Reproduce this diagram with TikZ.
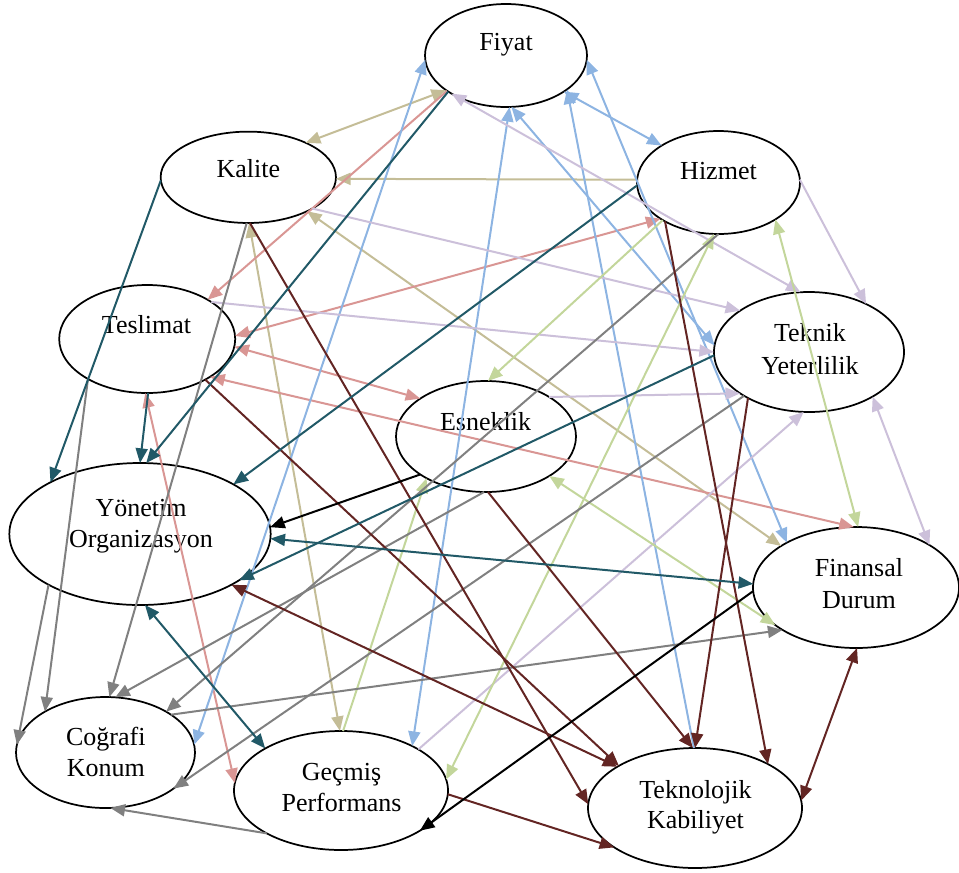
\documentclass[tikz,border=0pt]{standalone}
\usepackage{fontspec}
\setmainfont{Liberation Serif}
\usetikzlibrary{arrows.meta,shapes.geometric}
\definecolor{ctan}{HTML}{C4BD97}
\definecolor{cpink}{HTML}{D99694}
\definecolor{cteal}{HTML}{215967}
\definecolor{cblue}{HTML}{8DB4E2}
\definecolor{clav}{HTML}{CCC0DA}
\definecolor{cgreen}{HTML}{C3D69B}
\definecolor{cgray}{HTML}{808080}
\definecolor{cmar}{HTML}{632523}
\begin{document}
\begin{tikzpicture}[x=0.75pt,y=-0.75pt,
  ell/.style={ellipse,draw=black,line width=1.3pt,inner sep=0pt,outer sep=0pt},
  lbl/.style={anchor=base,inner sep=0pt,outer sep=0pt,font=\fontsize{19.5}{23}\selectfont},
  con/.style={line width=1.5pt},
  one/.style={con,-{Triangle[length=11pt,width=9pt]}},
  two/.style={con,{Triangle[length=11pt,width=9pt]}-{Triangle[length=11pt,width=9pt]}}]
\useasboundingbox (0,0) rectangle (959,872);
% ellipses
\node[ell,minimum width=121.5pt,minimum height=77.25pt] (F) at (506,55.5) {};
\node[ell,minimum width=131.5pt,minimum height=68.5pt] (K) at (248.3,177.3) {};
\node[ell,minimum width=122.25pt,minimum height=77.25pt] (H) at (718.5,182.5) {};
\node[ell,minimum width=132pt,minimum height=81pt] (T) at (147.2,339) {};
\node[ell,minimum width=142.5pt,minimum height=90pt] (TY) at (809,352) {};
\node[ell,minimum width=135pt,minimum height=83.25pt] (E) at (486,436.5) {};
\node[ell,minimum width=196pt,minimum height=106.5pt] (Y) at (140,534) {};
\node[ell,minimum width=154.5pt,minimum height=90.75pt] (FD) at (856,587.5) {};
\node[ell,minimum width=134.25pt,minimum height=83.25pt] (C) at (105.5,752.5) {};
\node[ell,minimum width=160.5pt,minimum height=89.25pt] (G) at (341,790.5) {};
\node[ell,minimum width=160.5pt,minimum height=90pt] (TK) at (695,808) {};
% labels
\node[lbl] (lF) at (506,50.5) {Fiyat};
\node[lbl] (lK) at (248.3,177.3) {Kalite};
\node[lbl] (lH) at (718.5,179) {Hizmet};
\node[lbl] (lT) at (146.5,333.3) {Teslimat};
\node[lbl] (lTY1) at (810,341.7) {Teknik};
\node[lbl] (lTY2) at (810,374) {Yeterlilik};
\node[lbl] (lE) at (485.5,430) {Esneklik};
\node[lbl] (lY1) at (141,516.7) {Yönetim};
\node[lbl] (lY2) at (141,547.7) {Organizasyon};
\node[lbl] (lFD1) at (859,576.7) {Finansal};
\node[lbl] (lFD2) at (859,608.3) {Durum};
\node[lbl] (lC1) at (105.8,745) {Coğrafi};
\node[lbl] (lC2) at (105.8,776) {Konum};
\node[lbl] (lG1) at (341.5,780) {Geçmiş};
\node[lbl] (lG2) at (341.5,811.7) {Performans};
\node[lbl] (lTK1) at (695.5,798.3) {Teknolojik};
\node[lbl] (lTK2) at (695.5,828.3) {Kabiliyet};
% tan
\draw[two,ctan] (F.210) -- (K.31);
\draw[one,ctan] (H.178) -- (K.359);
\draw[two,ctan] (K.271) -- (G.91);
\draw[two,ctan] (K.330) -- (FD.151);
% pink
\draw[one,cpink] (F.211) -- (T.33);
\draw[two,cpink] (T.2) -- (H.212);
\draw[two,cpink] (T.355) -- (E.150);
\draw[two,cpink] (T.329) -- (FD.92);
\draw[two,cpink] (T.268) -- (G.176);
% blue
\draw[two,cblue] (F.183) -- (C.5);
\draw[two,cblue] (F.274) -- (G.32);
\draw[two,cblue] (F.276) -- (TY.176);
\draw[two,cblue] (F.328) -- (H.147);
\draw[one,cblue] (TK.91) -- (F.331);
\draw[two,cblue] (F.357) -- (FD.147);
% lavender
\draw[two,clav] (F.215) -- (TY.98);
\draw[one,clav] (K.334) -- (TY.149);
\draw[one,clav] (T.30) -- (TY.180);
\draw[one,clav] (H.2) -- (TY.40);
\draw[one,clav] (E.32) -- (TY.211);
\draw[one,clav] (G.28) -- (TY.265);
\draw[two,clav] (TY.325) -- (FD.30);
% green
\draw[one,cgreen] (H.214) -- (E.88);
\draw[two,cgreen] (H.327) -- (FD.88);
\draw[two,cgreen] (H.265) -- (G.6);
\draw[one,cgreen] (G.88) -- (E.215);
\draw[two,cgreen] (E.328) -- (FD.205);
% gray
\draw[one,cgray] (K.268) -- (C.86);
\draw[one,cgray] (T.214) -- (C.146);
\draw[one,cgray] (Y.209) -- (C.175);
\draw[one,cgray] (H.270) -- (C.34);
\draw[one,cgray] (E.268) -- (C.80);
\draw[one,cgray] (TY.214) -- (C.332);
\draw[one,cgray] (C.30) -- (FD.210);
\draw[one,cgray] (G.210) -- (C.275);
% maroon
\draw[one,cmar] (K.272) -- (TK.178);
\draw[one,cmar] (T.325) -- (TK.151);
\draw[two,cmar] (Y.331) -- (TK.152);
\draw[one,cmar] (E.272) -- (TK.92);
\draw[one,cmar] (TY.217) -- (TK.90);
\draw[one,cmar] (H.216) -- (TK.31);
\draw[one,cmar] (G.358) -- (TK.206);
\draw[two,cmar] (FD.271) -- (TK.4);
% teal
\draw[one,cteal] (F.212) -- (Y.85);
\draw[one,cteal] (K.182) -- (Y.150);
\draw[one,cteal] (T.271) -- (Y.90);
\draw[one,cteal] (H.182) -- (Y.28);
\draw[one,cteal] (TY.182) -- (Y.335);
\draw[two,cteal] (Y.358) -- (FD.178);
\draw[two,cteal] (Y.274) -- (G.151);
% black
\draw[one,black] (E.210) -- (Y.3);
\draw[one,black] (FD.182) -- (G.333);
\end{tikzpicture}
\end{document}
